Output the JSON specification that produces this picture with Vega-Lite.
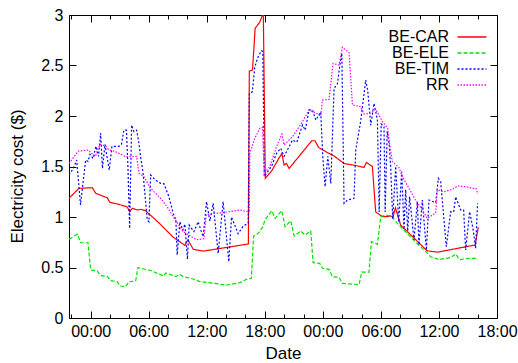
{
  "$schema": "https://vega.github.io/schema/vega-lite/v6.json",
  "width": 428,
  "height": 303,
  "autosize": {"type": "none"},
  "padding": {"left": 69, "top": 15, "right": 21, "bottom": 45},
  "config": {
    "view": {"stroke": "#000000", "strokeWidth": 1},
    "font": "Liberation Sans",
    "axis": {"labelFont": "Liberation Sans", "titleFont": "Liberation Sans", "labelFontSize": 16, "titleFontSize": 17, "titleFontWeight": "normal", "labelColor": "#000000", "titleColor": "#000000", "tickColor": "#000000", "domainColor": "#000000", "grid": false}
  },
  "data": {"values": [
    {"s":"BE-CAR","h":-2.24,"v":1.185},{"s":"BE-CAR","h":-1.21,"v":1.284},{"s":"BE-CAR","h":0.17,"v":1.29},{"s":"BE-CAR","h":0.52,"v":1.235},{"s":"BE-CAR","h":1.71,"v":1.19},{"s":"BE-CAR","h":1.99,"v":1.145},{"s":"BE-CAR","h":2.92,"v":1.125},{"s":"BE-CAR","h":3.78,"v":1.10},{"s":"BE-CAR","h":4.03,"v":1.052},{"s":"BE-CAR","h":4.30,"v":1.086},{"s":"BE-CAR","h":4.81,"v":1.07},{"s":"BE-CAR","h":5.23,"v":1.075},{"s":"BE-CAR","h":5.68,"v":1.062},{"s":"BE-CAR","h":7.16,"v":0.932},{"s":"BE-CAR","h":8.53,"v":0.80},{"s":"BE-CAR","h":9.74,"v":0.72},{"s":"BE-CAR","h":10.05,"v":0.775},{"s":"BE-CAR","h":10.60,"v":0.68},{"s":"BE-CAR","h":11.63,"v":0.662},{"s":"BE-CAR","h":16.30,"v":0.733},{"s":"BE-CAR","h":16.40,"v":2.445},{"s":"BE-CAR","h":16.73,"v":2.455},{"s":"BE-CAR","h":17.00,"v":2.868},{"s":"BE-CAR","h":17.48,"v":2.93},{"s":"BE-CAR","h":17.76,"v":3.0},{"s":"BE-CAR","h":17.85,"v":2.99},{"s":"BE-CAR","h":18.05,"v":1.383},{"s":"BE-CAR","h":18.73,"v":1.46},{"s":"BE-CAR","h":19.14,"v":1.53},{"s":"BE-CAR","h":19.76,"v":1.63},{"s":"BE-CAR","h":19.99,"v":1.515},{"s":"BE-CAR","h":20.24,"v":1.53},{"s":"BE-CAR","h":20.51,"v":1.48},{"s":"BE-CAR","h":22.85,"v":1.755},{"s":"BE-CAR","h":23.19,"v":1.755},{"s":"BE-CAR","h":23.55,"v":1.69},{"s":"BE-CAR","h":24.30,"v":1.647},{"s":"BE-CAR","h":25.16,"v":1.604},{"s":"BE-CAR","h":26.19,"v":1.53},{"s":"BE-CAR","h":27.40,"v":1.51},{"s":"BE-CAR","h":28.25,"v":1.49},{"s":"BE-CAR","h":28.50,"v":1.54},{"s":"BE-CAR","h":29.12,"v":1.50},{"s":"BE-CAR","h":29.46,"v":1.05},{"s":"BE-CAR","h":30.16,"v":1.003},{"s":"BE-CAR","h":30.50,"v":1.003},{"s":"BE-CAR","h":31.01,"v":1.01},{"s":"BE-CAR","h":31.25,"v":0.997},{"s":"BE-CAR","h":31.50,"v":1.09},{"s":"BE-CAR","h":32.04,"v":0.92},{"s":"BE-CAR","h":34.78,"v":0.665},{"s":"BE-CAR","h":35.87,"v":0.652},{"s":"BE-CAR","h":39.74,"v":0.723},{"s":"BE-CAR","h":40.07,"v":0.90},
    {"s":"BE-ELE","h":-2.24,"v":0.78},{"s":"BE-ELE","h":-1.38,"v":0.83},{"s":"BE-ELE","h":-1.03,"v":0.745},{"s":"BE-ELE","h":-0.28,"v":0.745},{"s":"BE-ELE","h":0.0,"v":0.475},{"s":"BE-ELE","h":0.68,"v":0.465},{"s":"BE-ELE","h":1.03,"v":0.42},{"s":"BE-ELE","h":1.71,"v":0.41},{"s":"BE-ELE","h":2.07,"v":0.37},{"s":"BE-ELE","h":2.75,"v":0.36},{"s":"BE-ELE","h":3.03,"v":0.317},{"s":"BE-ELE","h":3.61,"v":0.31},{"s":"BE-ELE","h":3.96,"v":0.36},{"s":"BE-ELE","h":4.65,"v":0.366},{"s":"BE-ELE","h":4.88,"v":0.498},{"s":"BE-ELE","h":5.50,"v":0.485},{"s":"BE-ELE","h":6.26,"v":0.468},{"s":"BE-ELE","h":6.88,"v":0.442},{"s":"BE-ELE","h":7.57,"v":0.416},{"s":"BE-ELE","h":7.75,"v":0.445},{"s":"BE-ELE","h":8.26,"v":0.43},{"s":"BE-ELE","h":8.81,"v":0.41},{"s":"BE-ELE","h":9.22,"v":0.432},{"s":"BE-ELE","h":9.56,"v":0.41},{"s":"BE-ELE","h":10.60,"v":0.386},{"s":"BE-ELE","h":11.29,"v":0.36},{"s":"BE-ELE","h":12.66,"v":0.345},{"s":"BE-ELE","h":14.04,"v":0.325},{"s":"BE-ELE","h":15.42,"v":0.35},{"s":"BE-ELE","h":16.11,"v":0.383},{"s":"BE-ELE","h":16.61,"v":0.393},{"s":"BE-ELE","h":16.84,"v":0.81},{"s":"BE-ELE","h":17.31,"v":0.838},{"s":"BE-ELE","h":17.82,"v":0.904},{"s":"BE-ELE","h":18.00,"v":0.97},{"s":"BE-ELE","h":18.72,"v":1.062},{"s":"BE-ELE","h":19.06,"v":0.987},{"s":"BE-ELE","h":19.76,"v":1.062},{"s":"BE-ELE","h":20.10,"v":0.904},{"s":"BE-ELE","h":20.68,"v":0.963},{"s":"BE-ELE","h":21.03,"v":0.812},{"s":"BE-ELE","h":21.72,"v":0.861},{"s":"BE-ELE","h":22.16,"v":0.822},{"s":"BE-ELE","h":22.75,"v":0.861},{"s":"BE-ELE","h":22.99,"v":0.548},{"s":"BE-ELE","h":23.68,"v":0.541},{"s":"BE-ELE","h":23.96,"v":0.492},{"s":"BE-ELE","h":24.64,"v":0.482},{"s":"BE-ELE","h":24.99,"v":0.409},{"s":"BE-ELE","h":25.67,"v":0.403},{"s":"BE-ELE","h":26.02,"v":0.343},{"s":"BE-ELE","h":27.74,"v":0.33},{"s":"BE-ELE","h":28.02,"v":0.455},{"s":"BE-ELE","h":28.77,"v":0.455},{"s":"BE-ELE","h":29.02,"v":0.756},{"s":"BE-ELE","h":29.64,"v":0.73},{"s":"BE-ELE","h":29.98,"v":1.003},{"s":"BE-ELE","h":30.50,"v":1.02},{"s":"BE-ELE","h":31.11,"v":1.01},{"s":"BE-ELE","h":31.70,"v":0.937},{"s":"BE-ELE","h":33.18,"v":0.79},{"s":"BE-ELE","h":34.83,"v":0.64},{"s":"BE-ELE","h":35.14,"v":0.607},{"s":"BE-ELE","h":36.02,"v":0.578},{"s":"BE-ELE","h":37.24,"v":0.60},{"s":"BE-ELE","h":37.75,"v":0.634},{"s":"BE-ELE","h":38.11,"v":0.578},{"s":"BE-ELE","h":39.10,"v":0.591},{"s":"BE-ELE","h":39.82,"v":0.591},{"s":"BE-ELE","h":40.03,"v":0.581},
    {"s":"BE-TIM","h":-2.24,"v":1.416},{"s":"BE-TIM","h":-1.80,"v":1.48},{"s":"BE-TIM","h":-1.45,"v":1.564},{"s":"BE-TIM","h":-1.05,"v":1.12},{"s":"BE-TIM","h":-0.52,"v":1.564},{"s":"BE-TIM","h":-0.28,"v":1.55},{"s":"BE-TIM","h":-0.07,"v":1.62},{"s":"BE-TIM","h":0.24,"v":1.58},{"s":"BE-TIM","h":0.55,"v":1.70},{"s":"BE-TIM","h":0.81,"v":1.60},{"s":"BE-TIM","h":1.03,"v":1.83},{"s":"BE-TIM","h":1.22,"v":1.48},{"s":"BE-TIM","h":1.48,"v":1.72},{"s":"BE-TIM","h":1.68,"v":1.60},{"s":"BE-TIM","h":1.92,"v":1.465},{"s":"BE-TIM","h":2.20,"v":1.70},{"s":"BE-TIM","h":2.92,"v":1.70},{"s":"BE-TIM","h":3.18,"v":1.72},{"s":"BE-TIM","h":3.44,"v":1.86},{"s":"BE-TIM","h":3.70,"v":1.86},{"s":"BE-TIM","h":3.85,"v":1.50},{"s":"BE-TIM","h":4.03,"v":0.888},{"s":"BE-TIM","h":4.23,"v":1.91},{"s":"BE-TIM","h":4.47,"v":1.845},{"s":"BE-TIM","h":4.75,"v":1.86},{"s":"BE-TIM","h":4.99,"v":1.73},{"s":"BE-TIM","h":5.16,"v":1.597},{"s":"BE-TIM","h":5.40,"v":1.45},{"s":"BE-TIM","h":5.85,"v":0.97},{"s":"BE-TIM","h":6.02,"v":0.953},{"s":"BE-TIM","h":6.20,"v":1.416},{"s":"BE-TIM","h":6.64,"v":1.37},{"s":"BE-TIM","h":7.23,"v":1.333},{"s":"BE-TIM","h":7.57,"v":1.33},{"s":"BE-TIM","h":8.09,"v":1.20},{"s":"BE-TIM","h":8.53,"v":1.036},{"s":"BE-TIM","h":8.81,"v":0.97},{"s":"BE-TIM","h":8.94,"v":0.624},{"s":"BE-TIM","h":9.22,"v":0.953},{"s":"BE-TIM","h":9.53,"v":0.87},{"s":"BE-TIM","h":9.74,"v":0.93},{"s":"BE-TIM","h":10.00,"v":0.581},{"s":"BE-TIM","h":10.18,"v":0.92},{"s":"BE-TIM","h":10.67,"v":0.855},{"s":"BE-TIM","h":11.11,"v":0.953},{"s":"BE-TIM","h":11.39,"v":0.87},{"s":"BE-TIM","h":11.63,"v":0.805},{"s":"BE-TIM","h":11.98,"v":1.152},{"s":"BE-TIM","h":12.32,"v":0.96},{"s":"BE-TIM","h":12.66,"v":1.135},{"s":"BE-TIM","h":13.18,"v":0.64},{"s":"BE-TIM","h":13.69,"v":1.152},{"s":"BE-TIM","h":14.28,"v":0.557},{"s":"BE-TIM","h":14.56,"v":1.00},{"s":"BE-TIM","h":15.24,"v":0.835},{"s":"BE-TIM","h":15.76,"v":0.91},{"s":"BE-TIM","h":16.28,"v":0.937},{"s":"BE-TIM","h":16.40,"v":2.225},{"s":"BE-TIM","h":16.71,"v":2.24},{"s":"BE-TIM","h":16.97,"v":2.488},{"s":"BE-TIM","h":17.31,"v":2.587},{"s":"BE-TIM","h":17.66,"v":2.646},{"s":"BE-TIM","h":17.79,"v":2.64},{"s":"BE-TIM","h":17.95,"v":1.40},{"s":"BE-TIM","h":18.31,"v":1.45},{"s":"BE-TIM","h":18.69,"v":1.50},{"s":"BE-TIM","h":19.21,"v":1.63},{"s":"BE-TIM","h":19.65,"v":1.68},{"s":"BE-TIM","h":19.99,"v":1.60},{"s":"BE-TIM","h":20.86,"v":1.762},{"s":"BE-TIM","h":21.30,"v":1.74},{"s":"BE-TIM","h":21.89,"v":1.91},{"s":"BE-TIM","h":22.18,"v":1.86},{"s":"BE-TIM","h":22.57,"v":2.06},{"s":"BE-TIM","h":22.92,"v":2.06},{"s":"BE-TIM","h":23.27,"v":1.96},{"s":"BE-TIM","h":23.78,"v":2.04},{"s":"BE-TIM","h":23.99,"v":1.60},{"s":"BE-TIM","h":24.23,"v":1.30},{"s":"BE-TIM","h":24.51,"v":1.60},{"s":"BE-TIM","h":24.82,"v":1.333},{"s":"BE-TIM","h":25.16,"v":2.274},{"s":"BE-TIM","h":25.51,"v":2.32},{"s":"BE-TIM","h":25.78,"v":2.52},{"s":"BE-TIM","h":25.96,"v":2.62},{"s":"BE-TIM","h":26.19,"v":1.135},{"s":"BE-TIM","h":26.54,"v":1.168},{"s":"BE-TIM","h":27.22,"v":1.185},{"s":"BE-TIM","h":27.40,"v":1.663},{"s":"BE-TIM","h":27.91,"v":1.95},{"s":"BE-TIM","h":28.43,"v":2.356},{"s":"BE-TIM","h":28.64,"v":2.25},{"s":"BE-TIM","h":28.95,"v":1.91},{"s":"BE-TIM","h":29.29,"v":2.125},{"s":"BE-TIM","h":29.64,"v":1.96},{"s":"BE-TIM","h":29.82,"v":1.05},{"s":"BE-TIM","h":30.03,"v":1.92},{"s":"BE-TIM","h":30.32,"v":1.894},{"s":"BE-TIM","h":30.44,"v":1.05},{"s":"BE-TIM","h":30.65,"v":1.85},{"s":"BE-TIM","h":30.84,"v":1.73},{"s":"BE-TIM","h":31.01,"v":1.50},{"s":"BE-TIM","h":31.22,"v":0.98},{"s":"BE-TIM","h":31.53,"v":1.50},{"s":"BE-TIM","h":31.84,"v":0.95},{"s":"BE-TIM","h":32.15,"v":1.45},{"s":"BE-TIM","h":32.39,"v":0.88},{"s":"BE-TIM","h":32.56,"v":1.27},{"s":"BE-TIM","h":32.77,"v":0.86},{"s":"BE-TIM","h":32.97,"v":1.20},{"s":"BE-TIM","h":33.42,"v":0.772},{"s":"BE-TIM","h":33.77,"v":1.152},{"s":"BE-TIM","h":33.93,"v":0.723},{"s":"BE-TIM","h":34.28,"v":1.168},{"s":"BE-TIM","h":34.70,"v":0.673},{"s":"BE-TIM","h":34.97,"v":1.168},{"s":"BE-TIM","h":35.66,"v":1.142},{"s":"BE-TIM","h":35.94,"v":1.383},{"s":"BE-TIM","h":36.18,"v":1.35},{"s":"BE-TIM","h":36.76,"v":0.706},{"s":"BE-TIM","h":37.21,"v":1.052},{"s":"BE-TIM","h":37.52,"v":1.05},{"s":"BE-TIM","h":37.73,"v":1.20},{"s":"BE-TIM","h":38.24,"v":1.07},{"s":"BE-TIM","h":38.55,"v":1.07},{"s":"BE-TIM","h":38.76,"v":0.673},{"s":"BE-TIM","h":39.17,"v":1.052},{"s":"BE-TIM","h":39.51,"v":0.888},{"s":"BE-TIM","h":39.79,"v":0.69},{"s":"BE-TIM","h":39.99,"v":1.135},
    {"s":"RR","h":-2.24,"v":1.53},{"s":"RR","h":-1.28,"v":1.653},{"s":"RR","h":-0.25,"v":1.663},{"s":"RR","h":0.03,"v":1.637},{"s":"RR","h":0.48,"v":1.60},{"s":"RR","h":0.96,"v":1.72},{"s":"RR","h":1.55,"v":1.703},{"s":"RR","h":1.89,"v":1.663},{"s":"RR","h":2.41,"v":1.653},{"s":"RR","h":2.92,"v":1.63},{"s":"RR","h":3.61,"v":1.597},{"s":"RR","h":4.75,"v":1.60},{"s":"RR","h":4.99,"v":1.433},{"s":"RR","h":5.50,"v":1.40},{"s":"RR","h":6.20,"v":1.284},{"s":"RR","h":7.23,"v":1.185},{"s":"RR","h":7.91,"v":1.10},{"s":"RR","h":8.53,"v":1.003},{"s":"RR","h":9.56,"v":0.855},{"s":"RR","h":10.43,"v":0.805},{"s":"RR","h":10.95,"v":0.775},{"s":"RR","h":11.70,"v":0.785},{"s":"RR","h":11.94,"v":1.025},{"s":"RR","h":13.69,"v":1.043},{"s":"RR","h":15.42,"v":1.07},{"s":"RR","h":16.17,"v":1.052},{"s":"RR","h":16.40,"v":1.06},{"s":"RR","h":16.45,"v":1.63},{"s":"RR","h":16.97,"v":1.78},{"s":"RR","h":17.48,"v":1.878},{"s":"RR","h":17.76,"v":1.89},{"s":"RR","h":17.95,"v":1.40},{"s":"RR","h":18.10,"v":1.45},{"s":"RR","h":18.52,"v":1.50},{"s":"RR","h":19.21,"v":1.696},{"s":"RR","h":19.76,"v":1.82},{"s":"RR","h":19.99,"v":1.713},{"s":"RR","h":20.86,"v":1.795},{"s":"RR","h":21.89,"v":1.944},{"s":"RR","h":22.57,"v":2.06},{"s":"RR","h":23.27,"v":2.03},{"s":"RR","h":23.78,"v":2.0},{"s":"RR","h":23.96,"v":2.158},{"s":"RR","h":24.64,"v":2.165},{"s":"RR","h":25.05,"v":2.52},{"s":"RR","h":25.67,"v":2.505},{"s":"RR","h":26.02,"v":2.68},{"s":"RR","h":26.71,"v":2.627},{"s":"RR","h":27.06,"v":2.109},{"s":"RR","h":27.91,"v":2.092},{"s":"RR","h":28.25,"v":2.02},{"s":"RR","h":28.95,"v":2.027},{"s":"RR","h":29.46,"v":2.066},{"s":"RR","h":30.16,"v":1.944},{"s":"RR","h":30.70,"v":1.878},{"s":"RR","h":30.91,"v":1.713},{"s":"RR","h":31.19,"v":1.548},{"s":"RR","h":31.87,"v":1.49},{"s":"RR","h":32.22,"v":1.40},{"s":"RR","h":32.90,"v":1.284},{"s":"RR","h":33.59,"v":1.168},{"s":"RR","h":34.28,"v":1.07},{"s":"RR","h":34.80,"v":0.987},{"s":"RR","h":35.66,"v":1.04},{"s":"RR","h":35.83,"v":1.267},{"s":"RR","h":36.52,"v":1.25},{"s":"RR","h":37.38,"v":1.274},{"s":"RR","h":37.93,"v":1.307},{"s":"RR","h":38.76,"v":1.30},{"s":"RR","h":39.45,"v":1.284},{"s":"RR","h":39.82,"v":1.284},{"s":"RR","h":40.03,"v":1.228}
  ]},
  "layer": [
    {
      "mark": {"type": "line", "strokeWidth": 1.2, "clip": true},
      "encoding": {
        "x": {"field": "h", "type": "quantitative", "scale": {"domain": [-2.24, 42], "nice": false, "zero": false},
          "axis": {"orient": "bottom", "title": "Date", "values": [-2,0,2,4,6,8,10,12,14,16,18,20,22,24,26,28,30,32,34,36,38,40,42],
            "labelExpr": "datum.value % 6 === 0 ? ((datum.value % 24) < 10 ? '0' : '') + (datum.value % 24) + ':00' : ''",
            "labelFlush": false, "labelOverlap": false, "domain": false,
            "tickSize": {"condition": {"test": "datum.value % 6 === 0", "value": -7}, "value": -4},
            "labelPadding": 12, "titlePadding": 3}},
        "y": {"field": "v", "type": "quantitative", "scale": {"domain": [0, 3], "nice": false},
          "axis": {"orient": "left", "title": "Electricity cost ($)", "values": [0,0.5,1,1.5,2,2.5,3], "format": "~g",
            "domain": false, "tickSize": -7, "labelPadding": 13, "titlePadding": 14, "titleY": 161, "labelOverlap": false, "labelFlush": false}},
        "color": {"field": "s", "type": "nominal",
          "scale": {"domain": ["BE-CAR","BE-ELE","BE-TIM","RR"], "range": ["#ff0000","#00e000","#0000ff","#ff00ff"]},
          "legend": {"orient": "none", "legendX": 395, "legendY": 14, "title": null, "symbolType": "M-2,0H2", "symbolSize": 210, "symbolStrokeWidth": 1.5,
            "labelAlign": "right", "labelOffset": -31, "labelFontSize": 16, "labelFont": "Liberation Sans", "labelColor": "#000000",
            "rowPadding": 0, "padding": 0}},
        "strokeDash": {"field": "s", "type": "nominal",
          "scale": {"domain": ["BE-CAR","BE-ELE","BE-TIM","RR"], "range": [[1,0],[4,2],[2,2],[1.5,1.5]]},
          "legend": {"orient": "none", "legendX": 395, "legendY": 14, "title": null}}
      }
    },
    {
      "mark": {"type": "line", "stroke": "transparent", "strokeWidth": 0},
      "encoding": {
        "x": {"field": "h", "type": "quantitative",
          "axis": {"orient": "top", "title": null, "labels": false, "domain": false, "values": [-2,0,2,4,6,8,10,12,14,16,18,20,22,24,26,28,30,32,34,36,38,40,42],
            "tickSize": {"condition": {"test": "datum.value % 6 === 0", "value": -7}, "value": -4}}},
        "y": {"field": "v", "type": "quantitative",
          "axis": {"orient": "right", "title": null, "labels": false, "domain": false, "values": [0,0.5,1,1.5,2,2.5,3], "tickSize": -7}},
        "detail": {"field": "s", "type": "nominal"}
      }
    }
  ],
  "resolve": {"axis": {"x": "independent", "y": "independent"}}
}
